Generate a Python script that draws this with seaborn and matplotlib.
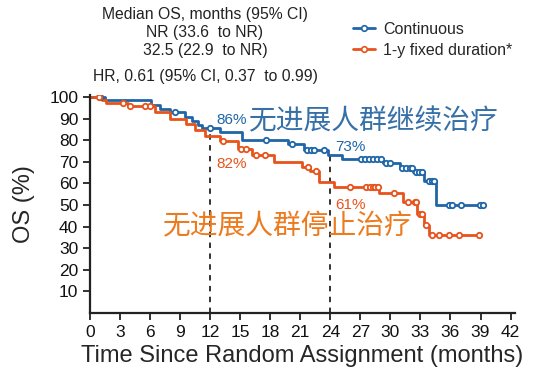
import numpy as np
import pandas as pd
import matplotlib
matplotlib.use("Agg")
import matplotlib.pyplot as plt
import seaborn as sns
from matplotlib.lines import Line2D

# ---- data ----
cont_times = [0, 1.5, 6.1, 7.0, 8.0, 9.5, 10.2, 10.8, 11.2, 13.0, 15.2, 19.8, 21.4, 23.8, 25.2, 29.3, 31.0, 32.3, 33.4, 34.6, 39.3]
cont_surv  = [100, 98.6, 96.3, 94.5, 93.1, 91, 89, 87, 85.7, 83.8, 80, 78.5, 75.7, 73.4, 71.4, 69.4, 67.2, 65.2, 61.3, 50, 50]
cont_cens  = [1.0, 8.5, 12.0, 17.6, 20.2, 21.7, 22.1, 22.4, 23.4, 27.1, 27.5, 27.9, 28.3, 28.7, 29.1, 29.6, 30.0,
              31.2, 31.6, 32.0, 32.2, 32.6, 32.9, 33.2, 33.9, 34.2, 34.4, 35.9, 36.2, 37.1, 38.9, 39.2]

fix_times = [0, 1.2, 1.6, 3.8, 6.5, 8.0, 9.6, 10.5, 11.5, 13.0, 14.8, 16.2, 18.4, 21.2, 22.0, 22.9, 24.4, 28.9, 31.3, 32.7, 33.4, 33.9, 38.9]
fix_surv  = [100, 98.6, 97.4, 95.8, 93.1, 90, 87.7, 84.6, 82, 79.5, 76, 73.4, 69.8, 67.8, 66, 60.5, 58.5, 55.5, 51.2, 45.7, 41, 36, 36]
fix_cens  = [0.9, 3.3, 4.0, 5.5, 6.0, 13.3, 15.1, 15.6, 16.6, 17.5, 21.8, 22.6, 26.0, 27.6, 28.0, 28.3, 28.5, 28.8,
             30.4, 31.8, 32.5, 32.6, 33.0, 33.2, 33.6, 34.2, 34.9, 35.9, 36.9, 38.8]

landmarks = [12, 24]
dash_tops = [83, 73.5]
cont_pct = ["86%", "73%"]
fix_pct = ["82%", "61%"]

x_ticks = list(range(0, 43, 3))
y_ticks = list(range(10, 101, 10))

BLUE = "#1f66a8"
ORANGE = "#e8531c"
BLUE_TXT = "#3670a8"
ORANGE_TXT = "#ec7a1e"

def step_val(times, surv, t):
    idx = np.searchsorted(times, t, side="right") - 1
    return surv[max(idx, 0)]

rows = []
for t, s in zip(cont_times, cont_surv):
    rows.append(dict(time=t, surv=s, arm="Continuous"))
for t, s in zip(fix_times, fix_surv):
    rows.append(dict(time=t, surv=s, arm="1-y fixed duration*"))
df = pd.DataFrame(rows)

cens = []
for t in cont_cens:
    cens.append(dict(time=t, surv=step_val(cont_times, cont_surv, t), arm="Continuous"))
for t in fix_cens:
    cens.append(dict(time=t, surv=step_val(fix_times, fix_surv, t), arm="1-y fixed duration*"))
dfc = pd.DataFrame(cens)

sns.set_style("ticks")
plt.rcParams['font.family'] = ['Liberation Sans', 'DejaVu Sans']

fig = plt.figure(figsize=(5.36, 3.86), dpi=100)
ax = fig.add_axes([0.168, 0.189, 0.792, 0.565])

pal = {"Continuous": BLUE, "1-y fixed duration*": ORANGE}
sns.lineplot(data=df, x="time", y="surv", hue="arm", palette=pal, drawstyle="steps-post",
             linewidth=2.0, ax=ax, legend=False, estimator=None, sort=False)
for arm, col in pal.items():
    sub = dfc[dfc.arm == arm]
    sns.scatterplot(data=sub, x="time", y="surv", ax=ax, s=15, marker="o",
                    facecolor="white", edgecolor=col, linewidth=1.3, legend=False, zorder=5)

for x, top in zip(landmarks, dash_tops):
    ax.plot([x, x], [0, top], ls=(0, (3, 3)), color="#222222", lw=1.3, zorder=1)

ax.set_xlim(0, 42.4)
ax.set_ylim(0, 101)
ax.set_xticks(x_ticks)
ax.set_yticks(y_ticks)
ax.tick_params(axis="both", labelsize=12.5, length=5, width=1.3, direction="out", colors="#222222")
for lbl in ax.get_xticklabels() + ax.get_yticklabels():
    lbl.set_color("#111111")
for sp in ["top", "right"]:
    ax.spines[sp].set_visible(False)
for sp in ["left", "bottom"]:
    ax.spines[sp].set_linewidth(1.6)
    ax.spines[sp].set_color("#222222")

ax.set_xlabel("Time Since Random Assignment (months)", fontsize=17, labelpad=4)
ax.set_ylabel("OS (%)", fontsize=17, labelpad=10)

# percent labels
ax.text(12.6, 89.5, cont_pct[0], color=BLUE, fontsize=11, ha="left", va="center")
ax.text(12.6, 69, fix_pct[0], color=ORANGE, fontsize=11, ha="left", va="center")
ax.text(24.5, 77, cont_pct[1], color=BLUE, fontsize=11, ha="left", va="center")
ax.text(24.5, 50, fix_pct[1], color=ORANGE, fontsize=11, ha="left", va="center")

cjk = ['Noto Sans CJK SC', 'DejaVu Sans']
ax.text(15.9, 89, "无进展人群继续治疗", color=BLUE_TXT, fontsize=20, family=cjk, ha="left", va="center")
ax.text(7.3, 40, "无进展人群停止治疗", color=ORANGE_TXT, fontsize=20, family=cjk, ha="left", va="center")

# header text
hdr = dict(fontsize=11.3, color="#222222", ha="center", va="center")
fig.text(205/536, 1 - 15/386, "Median OS, months (95% CI)", **hdr)
fig.text(205/536, 1 - 33/386, "NR (33.6  to NR)", **hdr)
fig.text(205/536, 1 - 51/386, "32.5 (22.9  to NR)", **hdr)
fig.text(205/536, 1 - 76/386, "HR, 0.61 (95% CI, 0.37  to 0.99)", **hdr)

handles = [Line2D([0], [0], color=BLUE, lw=2, marker="o", markersize=4, markerfacecolor="white", markeredgewidth=1.2),
           Line2D([0], [0], color=ORANGE, lw=2, marker="o", markersize=4, markerfacecolor="white", markeredgewidth=1.2)]
fig.legend(handles, ["Continuous", "1-y fixed duration*"], loc="upper left",
           bbox_to_anchor=(353/536, 1 - 22/386), frameon=False, fontsize=11.5,
           handlelength=1.4, handletextpad=0.5, labelspacing=0.35, borderpad=0, borderaxespad=0)

fig.savefig("out.png", dpi=100)
